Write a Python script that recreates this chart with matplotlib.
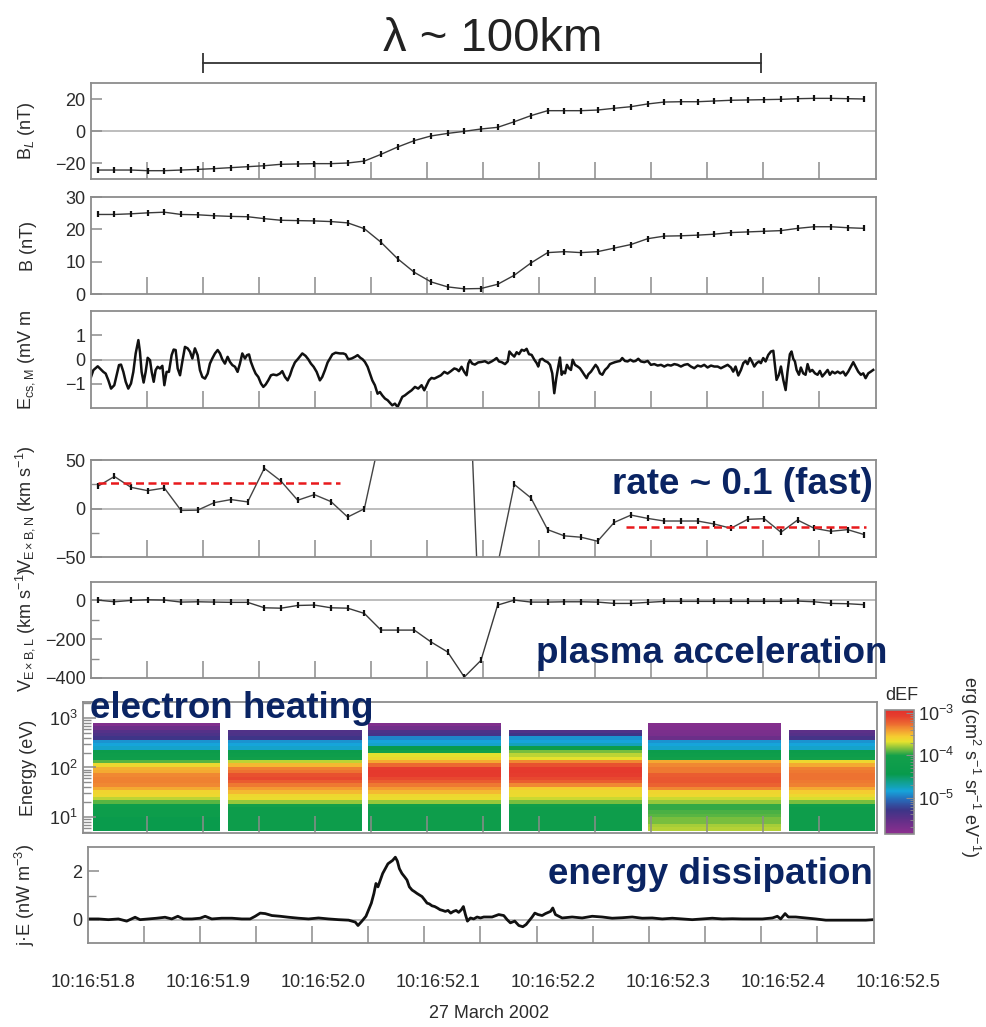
import numpy as np
import matplotlib
matplotlib.use("Agg")
import matplotlib.pyplot as plt
from matplotlib.colors import LinearSegmentedColormap, LogNorm
from matplotlib.transforms import blended_transform_factory
from matplotlib.ticker import FixedLocator, LogLocator, NullFormatter

plt.rcParams["font.family"] = ["Liberation Sans", "DejaVu Sans"]
plt.rcParams["mathtext.fontset"] = "custom"
plt.rcParams["mathtext.rm"] = "Liberation Sans"
plt.rcParams["mathtext.it"] = "Liberation Sans:italic"
plt.rcParams["mathtext.bf"] = "Liberation Sans:bold"

# ---------------- data (time in ms after 10:16:51.800) ----------------
t_fgm = 6.0 + 14.88 * np.arange(47)  # spin-resolution sample times

b_l = [-24.4, -24.4, -24.4, -24.8, -24.8, -24.4, -24.0, -23.5, -22.9, -22.3,
       -21.7, -20.8, -20.6, -20.4, -20.4, -20.0, -18.8, -14.6, -10.0, -6.0,
       -3.1, -1.5, -0.2, 1.25, 2.3, 5.8, 9.6, 12.7, 12.7, 12.7,
       13.1, 14.2, 15.2, 16.9, 18.1, 18.3, 18.3, 18.75, 19.2, 19.4,
       19.6, 19.8, 20.2, 20.4, 20.4, 20.2, 20.0]

b_tot = [24.6, 24.6, 24.8, 25.1, 25.3, 24.6, 24.5, 24.2, 24.0, 23.9,
         23.3, 22.8, 22.7, 22.6, 22.4, 22.0, 20.2, 16.0, 10.9, 6.7,
         3.75, 2.2, 1.6, 1.7, 3.0, 5.8, 9.6, 12.8, 13.1, 12.8,
         13.1, 14.2, 15.3, 17.1, 17.9, 18.0, 18.2, 18.5, 19.0, 19.2,
         19.4, 19.6, 20.3, 20.8, 20.8, 20.5, 20.3]

v_exb_n = [22.8, 33.0, 21.8, 18.4, 21.1, -2.0, -1.7, 6.1, 9.2, 6.8,
           41.5, 28.2, 8.5, 14.3, 7.1, -8.8, -0.3, 78.0, 150.0, 210.0,
           250.0, 270.0, 260.0, -160.0, -58.0, 24.8, 10.9, -21.8, -28.2, -29.6,
           -33.7, -14.3, -6.8, -10.2, -12.9, -12.9, -12.9, -16.0, -20.4, -11.2,
           -10.5, -24.5, -11.9, -20.4, -23.5, -21.8, -26.9]

v_exb_l = [1.7, -7, 0, 3.4, 1.7, -8.6, -7, -8.6, -10, -10,
           -38, -40, -26, -24, -38, -40, -67, -153, -153, -153,
           -214, -266, -395, -309, -24, 1.7, -8.6, -8.6, -7, -7,
           -8.6, -15.5, -15.5, -10, -5, -5, -5, -5, -5, -5,
           -5, -5, -3.4, -7, -15.5, -17, -22]

# average inflow levels either side of the current sheet
inflow_early_t = [6.3, 222.3]
inflow_early_v = 26.5
inflow_late_t = [477.4, 692.0]
inflow_late_v = -19.4

# E_cs,M (time ms, mV/m)
e_trace = [
    (0.0, -0.72), (2.1, -0.44), (6.0, -0.28), (8.0, -0.37), (11.0, -0.51), (13.1, -0.58),
    (15.5, -0.86), (17.9, -1.20), (20.8, -1.06), (22.9, -0.65), (25.0, -0.23), (26.8, -0.21),
    (28.9, -0.51), (31.0, -0.92), (33.3, -1.20), (35.7, -0.99), (37.8, -0.51), (39.9, 0.25),
    (42.3, 0.80), (43.7, 0.32), (45.2, -0.51), (47.0, -0.95), (48.8, -0.51), (50.6, 0.07),
    (52.7, -0.03), (54.2, -0.51), (56.0, -0.92), (57.7, -0.44), (59.5, -0.30), (61.6, -0.37),
    (63.7, -0.26), (65.5, -1.06), (67.5, -0.51), (69.6, -0.51), (72.0, 0.18), (73.8, 0.41),
    (75.6, 0.39), (77.4, -0.37), (79.5, -0.65), (81.5, -0.10), (83.9, 0.52), (86.3, 0.46),
    (88.4, 0.32), (90.5, 0.04), (92.8, 0.46), (95.2, 0.18), (97.3, -0.44), (99.4, -0.72),
    (101.8, -0.79), (104.2, -0.58), (106.2, -0.17), (108.3, 0.04), (110.7, 0.25), (113.1, 0.39),
    (115.2, 0.25), (117.2, 0.01), (119.6, -0.17), (122.0, 0.11), (124.1, -0.10), (126.2, -0.23),
    (128.6, -0.30), (130.9, -0.51), (133.0, -0.17), (135.1, 0.25), (137.5, 0.04), (139.3, 0.18),
    (141.1, 0.21), (142.8, -0.10), (145.0, -0.37), (147.0, -0.58), (149.4, -0.72), (151.8, -0.99),
    (153.9, -1.13), (156.0, -1.03), (158.3, -0.86), (160.7, -0.65), (162.8, -0.62), (165.8, -0.65),
    (168.7, -0.58), (170.8, -0.48), (173.2, -0.72), (175.6, -0.86), (177.7, -0.65), (179.7, -0.37),
    (182.1, -0.12), (185.1, 0.04), (188.7, 0.25), (191.6, 0.15), (194.0, 0.01), (196.4, -0.17),
    (198.8, -0.30), (201.5, -0.51), (204.4, -0.86), (206.5, -0.72), (208.9, -0.44), (211.3, -0.12),
    (213.4, 0.04), (215.5, 0.21), (218.4, 0.28), (222.3, 0.25), (225.3, 0.25), (227.4, 0.21),
    (229.7, 0.01), (232.7, 0.04), (235.7, 0.11), (238.1, 0.18), (240.5, 0.07), (242.5, 0.01),
    (244.6, -0.10), (247.0, -0.30), (249.1, -0.58), (251.2, -0.86), (253.5, -1.06), (255.9, -1.41),
    (258.0, -1.34), (260.1, -1.48), (262.5, -1.61), (264.9, -1.68), (266.9, -1.78), (269.0, -1.89),
    (271.4, -1.82), (273.8, -1.96), (275.9, -1.75), (278.0, -1.54), (280.3, -1.48), (283.3, -1.37),
    (286.3, -1.27), (289.3, -1.13), (292.2, -1.20), (295.2, -1.06), (297.6, -1.27), (299.7, -1.06),
    (301.8, -0.86), (304.1, -0.76), (306.5, -0.79), (309.5, -0.72), (312.5, -0.65), (315.5, -0.51),
    (318.4, -0.58), (321.4, -0.48), (324.4, -0.37), (326.5, -0.40), (328.5, -0.48), (330.9, -0.30),
    (333.3, -0.51), (335.4, -0.65), (336.9, -0.17), (338.4, -0.03), (340.4, -0.17), (342.8, -0.21),
    (345.8, -0.12), (348.8, -0.10), (351.8, -0.07), (354.8, -0.15), (357.8, -0.08), (360.2, -0.01),
    (362.2, 0.06), (364.3, -0.08), (366.7, -0.11), (369.7, -0.19), (372.1, -0.08), (373.6, 0.33),
    (375.6, 0.22), (378.0, 0.12), (380.1, 0.30), (382.2, 0.22), (384.6, 0.40), (386.9, 0.36),
    (389.0, 0.44), (391.1, 0.22), (393.5, 0.19), (395.9, -0.01), (398.0, -0.15), (399.4, -0.29),
    (400.9, -0.01), (403.0, 0.03), (405.4, -0.06), (407.8, -0.11), (409.9, -0.22), (411.9, -0.57),
    (413.7, -1.39), (415.5, -0.77), (417.3, -0.29), (418.8, 0.08), (420.3, -0.63), (421.8, -0.50),
    (423.3, -0.57), (425.0, -0.22), (426.8, -0.36), (428.6, -0.43), (430.1, -0.01), (432.2, -0.22),
    (434.6, -0.29), (436.6, -0.36), (438.7, -0.50), (440.5, -0.63), (442.6, -0.77), (444.1, -0.61),
    (446.5, -0.50), (448.5, -0.36), (450.6, -0.22), (452.4, -0.33), (454.5, -0.57), (456.6, -0.63),
    (459.0, -0.43), (461.3, -0.33), (463.4, -0.19), (465.5, -0.15), (467.9, -0.11), (470.3, -0.08),
    (472.4, -0.06), (474.4, 0.06), (476.8, -0.06), (479.2, -0.08), (481.6, -0.01), (484.3, -0.08),
    (486.3, -0.06), (488.7, 0.03), (491.1, -0.08), (494.1, -0.11), (497.1, -0.06), (500.0, -0.22),
    (503.0, -0.19), (506.0, -0.25), (509.0, -0.22), (511.9, -0.29), (514.9, -0.22), (517.9, -0.25),
    (520.9, -0.19), (523.8, -0.22), (526.8, -0.29), (529.8, -0.22), (532.8, -0.19), (535.7, -0.29),
    (538.7, -0.36), (541.7, -0.25), (544.7, -0.29), (547.6, -0.22), (550.6, -0.33), (553.6, -0.25),
    (556.6, -0.29), (559.6, -0.29), (562.5, -0.36), (565.5, -0.29), (568.5, -0.22), (571.5, -0.33),
    (573.5, -0.50), (575.6, -0.29), (578.0, -0.66), (580.4, -0.43), (582.5, -0.15), (584.5, -0.06),
    (586.3, -0.19), (588.4, 0.06), (590.5, -0.11), (592.3, -0.29), (594.4, -0.15), (596.5, -0.08),
    (598.2, -0.15), (600.3, 0.06), (602.4, -0.08), (604.8, 0.19), (607.2, 0.33), (609.3, 0.36),
    (610.7, -0.22), (612.2, -0.84), (614.3, -0.63), (616.1, -0.29), (618.2, -0.84), (620.3, -1.26),
    (622.0, -0.50), (624.1, 0.22), (625.6, 0.33), (627.1, 0.03), (628.6, -0.08), (630.1, -0.43),
    (632.2, -0.63), (633.9, -0.33), (636.0, -0.57), (638.1, -0.63), (639.9, -0.19), (642.0, -0.50),
    (644.1, -0.43), (646.5, -0.57), (648.8, -0.63), (650.9, -0.47), (653.0, -0.70), (655.4, -0.57),
    (657.8, -0.43), (659.8, -0.63), (661.9, -0.50), (664.3, -0.57), (666.7, -0.50), (669.1, -0.57),
    (671.7, -0.50), (673.8, -0.66), (676.2, -0.50), (678.6, -0.29), (680.7, -0.11), (682.7, -0.29),
    (685.1, -0.50), (687.5, -0.63), (689.6, -0.57), (691.7, -0.77), (694.1, -0.57), (696.4, -0.50),
    (698.5, -0.43),
]

# j.E (time ms, nW/m^3)
je_trace = [
    (0.0, 0.04), (9.2, 0.04), (18.2, 0.01), (27.1, 0.04), (34.5, -0.05), (42.0, 0.11),
    (46.4, 0.01), (53.9, 0.04), (61.3, 0.07), (68.7, 0.11), (74.7, 0.04), (80.1, 0.15),
    (85.1, 0.04), (92.6, 0.04), (100.0, 0.07), (104.5, 0.15), (110.4, 0.04), (119.3, 0.07),
    (128.3, 0.07), (137.2, 0.04), (144.6, 0.04), (149.1, 0.15), (153.6, 0.28), (158.0, 0.26),
    (164.0, 0.18), (171.4, 0.15), (178.9, 0.11), (187.8, 0.07), (196.7, 0.04), (205.6, 0.08),
    (214.6, 0.04), (223.5, 0.01), (232.4, -0.01), (238.4, -0.09), (240.8, -0.23), (244.3, -0.05),
    (247.9, 0.15), (250.3, 0.42), (252.7, 0.69), (255.0, 1.09), (256.8, 1.50), (258.6, 1.36),
    (260.7, 1.64), (262.8, 1.91), (265.2, 2.11), (267.5, 2.31), (269.6, 2.38), (271.7, 2.45),
    (274.1, 2.58), (275.9, 2.42), (277.7, 2.11), (280.0, 1.91), (282.4, 1.77), (284.5, 1.64),
    (286.6, 1.36), (289.0, 1.23), (291.3, 1.16), (293.4, 1.09), (295.5, 1.03), (297.9, 0.96),
    (300.3, 0.82), (302.4, 0.69), (304.4, 0.66), (306.8, 0.58), (309.2, 0.55), (311.6, 0.49),
    (314.0, 0.42), (316.3, 0.39), (318.7, 0.35), (321.1, 0.39), (323.5, 0.28), (325.9, 0.35),
    (328.3, 0.39), (330.6, 0.31), (333.0, 0.42), (334.8, 0.55), (336.6, 0.22), (338.4, -0.05),
    (341.1, 0.08), (344.0, 0.04), (347.0, 0.12), (350.0, 0.08), (353.0, 0.12), (360.4, 0.12),
    (366.3, 0.22), (370.8, 0.18), (373.8, 0.01), (376.7, -0.12), (380.6, -0.05), (384.2, -0.23),
    (387.8, -0.28), (390.7, -0.19), (393.1, -0.05), (396.1, 0.12), (398.5, 0.28), (401.4, 0.22),
    (405.0, 0.18), (408.0, 0.26), (412.5, 0.35), (414.5, 0.49), (416.9, 0.22), (422.9, 0.08),
    (431.8, 0.12), (440.7, 0.08), (449.7, 0.15), (458.6, 0.12), (467.5, 0.07), (476.4, 0.09),
    (485.4, 0.12), (494.3, 0.07), (503.2, 0.08), (512.2, 0.04), (521.1, 0.07), (530.0, 0.04),
    (538.9, 0.01), (547.9, 0.04), (556.8, 0.07), (565.7, 0.04), (574.7, 0.05), (583.6, 0.04),
    (592.5, 0.04), (601.4, 0.04), (610.4, 0.08), (614.8, 0.15), (617.8, 0.04), (621.7, 0.26),
    (624.6, 0.12), (631.2, 0.12), (640.1, 0.08), (649.1, 0.04), (658.0, -0.01), (666.9, -0.01),
    (675.8, -0.01), (684.8, -0.01), (693.7, -0.01), (700.2, 0.01),
]

# electron spectrogram: 6 sweeps, 32 energy channels (log10 dEF, lowest channel first)
sweep_t = [(1.8, 115.2), (122.3, 242.0), (247.3, 366.1),
           (373.2, 491.9), (497.3, 616.1), (623.2, 700.0)]
nan = np.nan
sweep1 = [-4.4, -4.4, -4.4, -4.35, -4.25, -4.25, -4.2, -4.15, -3.9, -3.75,
          -3.62, -3.6, -3.45, -3.35, -3.32, -3.32, -3.35, -3.45, -3.47, -3.62,
          -3.9, -4.15, -4.2, -4.3, -4.8, -4.85, -4.9, -5.3, -5.4, -5.45, -5.6, -5.75]
sweep2 = [-4.25, -4.25, -4.25, -4.25, -4.25, -4.25, -4.25, -4.0, -3.8, -3.65,
          -3.62, -3.5, -3.4, -3.3, -3.2, -3.12, -3.15, -3.28, -3.32, -3.5,
          -3.75, -4.1, -4.2, -4.3, -4.8, -4.85, -4.9, -5.3, -5.4, -5.42, nan, nan]
sweep3 = [-4.2, -4.2, -4.2, -4.2, -4.2, -4.2, -4.2, -4.05, -3.8, -3.65,
          -3.62, -3.5, -3.4, -3.3, -3.2, -3.12, -3.03, -3.02, -3.05, -3.25,
          -3.45, -3.62, -3.68, -4.0, -4.45, -4.8, -4.85, -4.95, -5.35, -5.4, -5.65, -5.75]
sweep4 = [-4.2, -4.2, -4.2, -4.2, -4.2, -4.2, -4.2, -4.1, -3.85, -3.72,
          -3.63, -3.62, -3.55, -3.35, -3.2, -3.12, -3.05, -3.02, -3.03, -3.15,
          -3.35, -3.68, -3.75, -3.85, -4.3, -4.75, -4.85, -4.9, -5.3, -5.42, nan, nan]
sweep5 = [-3.76, -3.78, -3.85, -3.85, -3.9, -3.92, -3.95, -3.95, -3.8, -3.72,
          -3.62, -3.6, -3.35, -3.22, -3.18, -3.18, -3.2, -3.3, -3.3, -3.35,
          -3.45, -4.1, -4.2, -4.3, -4.8, -4.85, -4.9, -5.6, -5.7, -5.72, -5.75, -5.78]
sweep6 = [-4.2, -4.2, -4.2, -4.2, -4.2, -4.2, -4.2, -4.1, -3.85, -3.7,
          -3.62, -3.55, -3.45, -3.32, -3.3, -3.28, -3.28, -3.3, -3.32, -3.45,
          -3.62, -4.1, -4.2, -4.3, -4.8, -4.85, -4.9, -5.35, -5.45, -5.5, nan, nan]
sweeps = [sweep1, sweep2, sweep3, sweep4, sweep5, sweep6]
energy_edges = np.logspace(0.727, 2.899, 33)

lambda_span_ms = [100.0, 598.2]
time_labels = ["10:16:51.8", "10:16:51.9", "10:16:52.0", "10:16:52.1",
               "10:16:52.2", "10:16:52.3", "10:16:52.4", "10:16:52.5"]

# ---------------- layout helpers ----------------
W, H = 986, 1027
GRAY = "#8c8c8c"
TXT = "#2b2b2b"
NAVY = "#0a2463"


def rect(left, top, right, bottom):
    return [left / W, 1 - bottom / H, (right - left) / W, (bottom - top) / H]


def style(ax, left, width):
    for s in ax.spines.values():
        s.set_color(GRAY)
        s.set_linewidth(1.3)
    ax.xaxis.set_major_locator(FixedLocator(np.arange(50, 700, 50)))
    ax.tick_params(axis="x", which="both", direction="in", length=12, width=1.1,
                   color=GRAY, bottom=True, top=False, labelbottom=False)
    ax.tick_params(axis="y", which="major", direction="in", length=8, width=1.1,
                   color=GRAY, labelsize=13, labelcolor=TXT, pad=4)
    ax.tick_params(axis="y", which="minor", direction="in", length=6, width=1.0,
                   color=GRAY)
    ax.yaxis.set_label_coords((37 - left) / width, 0.5)


def zero_line(ax):
    ax.axhline(0, color="#b8b8b8", lw=1.3, zorder=0)


def fgm_plot(ax, y):
    ax.plot(t_fgm, y, color="#3a3a3a", lw=1.0, marker="|", ms=5, mew=1.6, mec="#111111")


fig = plt.figure(figsize=(W / 100, H / 100), dpi=100)

# B_L
ax1 = fig.add_axes(rect(91, 83, 876, 179))
fgm_plot(ax1, b_l)
zero_line(ax1)
ax1.set_xlim(0, 701)
ax1.set_ylim(-30, 30)
ax1.set_yticks([-20, 0, 20])
ax1.set_ylabel("B$_L$ (nT)", fontsize=13, color=TXT)
style(ax1, 91, 785)

# lambda scale bar above the top panel
trans = blended_transform_factory(ax1.transData, ax1.transAxes)
ax1.plot(lambda_span_ms, [1.208, 1.208], transform=trans, clip_on=False,
         color="#333333", lw=1.3)
ax1.plot(lambda_span_ms, [1.208, 1.208], transform=trans, clip_on=False,
         ls="none", marker="|", ms=14, mew=1.3, color="#333333")
fig.text(493 / W, 1 - 51 / H, "λ ~ 100km", ha="center", va="baseline",
         fontsize=34, color="#222222")

# |B|
ax2 = fig.add_axes(rect(91, 197, 876, 294))
fgm_plot(ax2, b_tot)
ax2.set_xlim(0, 701)
ax2.set_ylim(0, 30)
ax2.set_yticks([0, 10, 20, 30])
ax2.set_ylabel("B (nT)", fontsize=13, color=TXT)
style(ax2, 91, 785)

# E_cs,M
e_t, e_v = np.array(e_trace).T
ax3 = fig.add_axes(rect(91, 311, 876, 408))
ax3.plot(e_t, e_v, color="#111111", lw=1.8)
zero_line(ax3)
ax3.set_xlim(0, 701)
ax3.set_ylim(-2, 2)
ax3.set_yticks([-1, 0, 1])
ax3.set_ylabel("E$_{\\mathrm{cs,M}}$ (mV m", fontsize=13, color=TXT)
style(ax3, 91, 785)

# V_ExB,N with inflow levels
ax4 = fig.add_axes(rect(91, 460, 876, 557))
ax4.plot(t_fgm, v_exb_n, color="#444444", lw=1.0, marker="|", ms=5, mew=1.6, mec="#111111")
zero_line(ax4)
ax4.plot(inflow_early_t, [inflow_early_v] * 2, color="#e8191c", lw=1.8, ls=(0, (3.2, 1.8)))
ax4.plot(inflow_late_t, [inflow_late_v] * 2, color="#e8191c", lw=1.8, ls=(0, (3.2, 1.8)))
ax4.set_xlim(0, 701)
ax4.set_ylim(-50, 50)
ax4.set_yticks([-50, 0, 50])
ax4.yaxis.set_minor_locator(FixedLocator([-25, 25]))
ax4.set_ylabel("V$_{\\mathrm{E\\times B,N}}$ (km s$^{-1}$)", fontsize=13, color=TXT)
style(ax4, 91, 785)

# V_ExB,L
ax5 = fig.add_axes(rect(91, 582, 876, 678))
fgm_plot(ax5, v_exb_l)
zero_line(ax5)
ax5.set_xlim(0, 701)
ax5.set_ylim(-400, 95)
ax5.set_yticks([-400, -200, 0])
ax5.yaxis.set_minor_locator(FixedLocator([-300, -100]))
ax5.set_ylabel("V$_{\\mathrm{E\\times B,L}}$ (km s$^{-1}$)", fontsize=13, color=TXT)
style(ax5, 91, 785)

# electron energy spectrogram
anchors = [(-5.86, "#8e2f8f"), (-5.55, "#632f88"), (-5.30, "#3d3588"), (-5.05, "#2769b8"),
           (-4.85, "#16a4da"), (-4.62, "#10a08a"), (-4.45, "#089a4c"), (-4.00, "#13a04a"),
           (-3.82, "#8cc43c"), (-3.68, "#e6e22e"), (-3.55, "#f5cc30"), (-3.40, "#f39a32"),
           (-3.25, "#ec6a31"), (-3.08, "#e6402e"), (-2.93, "#e3302c")]
lo, hi = anchors[0][0], anchors[-1][0]
cmap = LinearSegmentedColormap.from_list(
    "def", [((v - lo) / (hi - lo), c) for v, c in anchors])
norm = LogNorm(vmin=10 ** lo, vmax=10 ** hi)

ax6 = fig.add_axes(rect(83, 702, 877, 833))
for (t0, t1), sweep in zip(sweep_t, sweeps):
    c = np.ma.masked_invalid(10 ** np.array(sweep).reshape(-1, 1))
    mesh = ax6.pcolormesh([t0, t1], energy_edges, c, cmap=cmap, norm=norm, shading="flat")
ax6.set_yscale("log")
ax6.set_xlim(-7.1, 701.8)
ax6.set_ylim(4.75, 2100)
ax6.yaxis.set_major_locator(LogLocator(base=10, numticks=10))
ax6.yaxis.set_minor_locator(LogLocator(base=10, subs=np.arange(2, 10), numticks=10))
ax6.yaxis.set_minor_formatter(NullFormatter())
ax6.set_ylabel("Energy (eV)", fontsize=13, color=TXT)
style(ax6, 83, 794)
ax6.tick_params(axis="y", which="major", length=9)
ax6.tick_params(axis="y", which="minor", length=6)
ax6.set_axisbelow(False)

cax = fig.add_axes(rect(885, 710, 914, 834))
cb = fig.colorbar(mesh, cax=cax)
cb.outline.set_edgecolor(GRAY)
cb.outline.set_linewidth(1.2)
cb.set_ticks([1e-5, 1e-4, 1e-3])
cax.tick_params(which="both", direction="in", color=GRAY, labelsize=13, labelcolor=TXT, pad=3)
cax.tick_params(which="major", length=6)
cax.tick_params(which="minor", length=3)
fig.text(902 / W, 1 - 696 / H, "dEF", ha="center", va="center", fontsize=13, color=TXT)
fig.text(970 / W, 1 - 767 / H, "erg (cm$^2$ s$^{-1}$ sr$^{-1}$ eV$^{-1}$)", rotation=270,
         ha="center", va="center", fontsize=13, color=TXT)

# j.E
je_t, je_v = np.array(je_trace).T
ax7 = fig.add_axes(rect(88, 847, 874, 943))
ax7.plot(je_t, je_v, color="#111111", lw=2.0)
zero_line(ax7)
ax7.set_xlim(0, 701)
ax7.set_ylim(-0.95, 3)
ax7.set_yticks([0, 2])
ax7.yaxis.set_minor_locator(FixedLocator([1]))
ax7.set_ylabel("j·E (nW m$^{-3}$)", fontsize=13, color=TXT)
style(ax7, 88, 786)

# UT labels
ax_t = fig.add_axes(rect(93, 970, 898, 971))
ax_t.set_xlim(0, 700)
ax_t.set_xticks(np.arange(0, 701, 100))
ax_t.set_xticklabels(time_labels)
ax_t.set_yticks([])
for s in ax_t.spines.values():
    s.set_visible(False)
ax_t.tick_params(axis="x", length=0, labelsize=13, labelcolor=TXT, pad=2)
ax_t.patch.set_visible(False)
fig.text(489 / W, 1 - 1013 / H, "27 March 2002", ha="center", va="center",
         fontsize=13, color=TXT)

# annotations
ann = dict(fontsize=26.5, fontweight="bold", color=NAVY, va="baseline")
fig.text(873 / W, 1 - 494 / H, "rate ~ 0.1 (fast)", ha="right", **ann)
fig.text(887 / W, 1 - 663 / H, "plasma acceleration", ha="right", **ann)
fig.text(90 / W, 1 - 718 / H, "electron heating", ha="left", **ann)
fig.text(873 / W, 1 - 884 / H, "energy dissipation", ha="right", **ann)

fig.savefig("out.png", dpi=100, facecolor="white")
